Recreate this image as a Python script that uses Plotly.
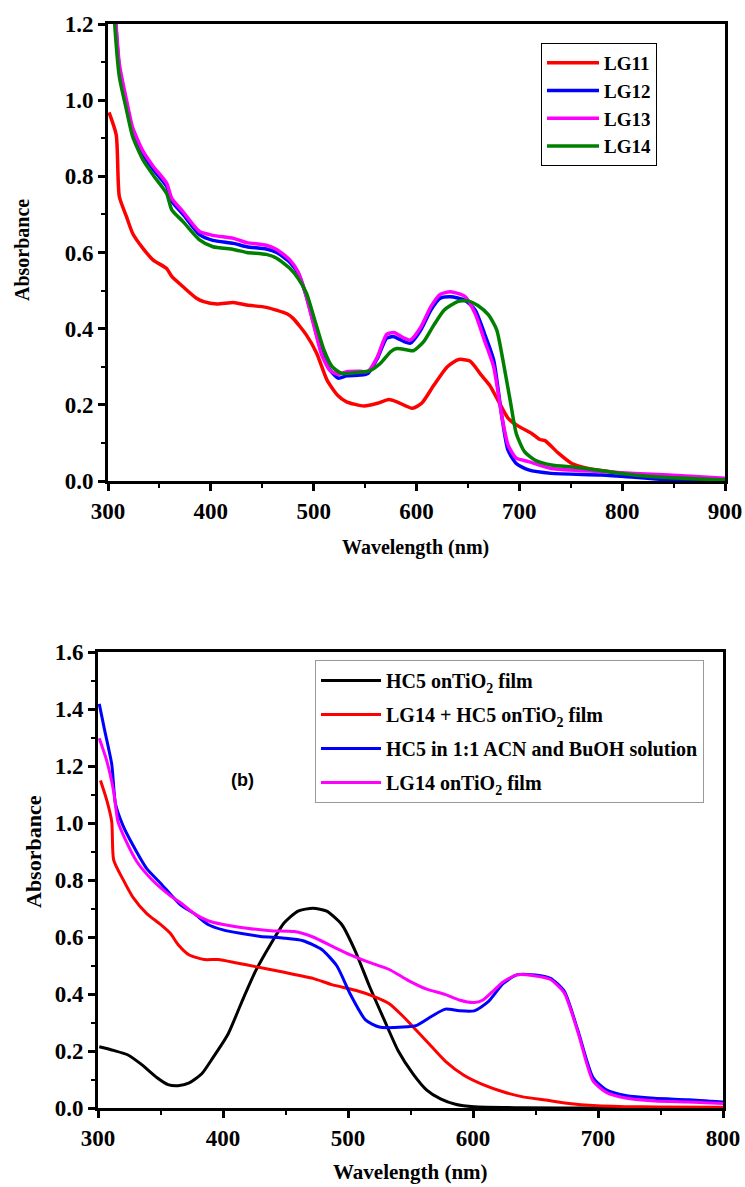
import plotly.graph_objects as go

W, H = 745, 1187

# ---------------- Top panel data ----------------
lg11_x = [301, 308, 311, 318, 324, 334, 344, 357, 362, 373, 386, 393, 406, 422, 435, 454, 474, 480, 493, 503, 513, 523, 532, 549, 562, 573, 581, 596, 605, 617, 630, 641, 652, 663, 671, 679, 689, 699, 712, 720, 725, 738, 751, 767, 787, 812, 845, 900]
lg11_y = [0.968, 0.909, 0.747, 0.694, 0.650, 0.611, 0.580, 0.558, 0.537, 0.510, 0.480, 0.471, 0.465, 0.469, 0.462, 0.456, 0.439, 0.427, 0.383, 0.335, 0.265, 0.226, 0.208, 0.197, 0.204, 0.214, 0.208, 0.191, 0.204, 0.252, 0.300, 0.319, 0.315, 0.278, 0.252, 0.213, 0.165, 0.144, 0.125, 0.109, 0.106, 0.073, 0.046, 0.033, 0.025, 0.016, 0.009, 0.003]

lg12_x = [305, 307.5, 311, 318, 324, 334, 344, 357, 362, 373, 389, 402, 422, 435, 454, 464, 477, 485, 492, 500, 508, 516, 524, 532, 545, 553, 562, 571, 578, 588, 594, 604, 614, 623, 633, 647, 657, 666, 675, 683, 689, 697, 709, 731, 780, 812, 845, 900]
lg12_y = [1.30, 1.20, 1.085, 0.990, 0.920, 0.858, 0.818, 0.774, 0.735, 0.700, 0.647, 0.632, 0.624, 0.615, 0.609, 0.600, 0.574, 0.545, 0.493, 0.414, 0.335, 0.291, 0.270, 0.276, 0.278, 0.283, 0.322, 0.375, 0.379, 0.366, 0.362, 0.396, 0.449, 0.480, 0.484, 0.475, 0.449, 0.388, 0.318, 0.169, 0.081, 0.046, 0.029, 0.020, 0.016, 0.010, 0.003, 0.000]

lg13_x = [305, 307.5, 311, 318, 324, 334, 344, 357, 362, 373, 389, 402, 422, 435, 454, 464, 477, 485, 492, 500, 508, 516, 524, 532, 545, 553, 562, 571, 578, 588, 594, 604, 614, 623, 633, 647, 657, 666, 675, 683, 689, 697, 709, 731, 780, 812, 845, 900]
lg13_y = [1.31, 1.21, 1.095, 1.000, 0.928, 0.866, 0.826, 0.782, 0.742, 0.707, 0.655, 0.645, 0.637, 0.626, 0.619, 0.608, 0.580, 0.548, 0.493, 0.410, 0.330, 0.290, 0.280, 0.287, 0.288, 0.288, 0.326, 0.385, 0.390, 0.375, 0.370, 0.403, 0.458, 0.490, 0.497, 0.485, 0.440, 0.370, 0.300, 0.170, 0.095, 0.060, 0.051, 0.033, 0.025, 0.020, 0.016, 0.007]

lg14_x = [305, 306.5, 311, 318, 324, 334, 344, 357, 362, 373, 389, 402, 422, 435, 454, 464, 477, 485, 493, 501, 510, 518, 527, 539, 555, 565, 575, 581, 591, 597, 607, 617, 627, 640, 650, 660, 670, 678, 684, 691, 697, 705, 715, 731, 754, 780, 812, 845, 900]
lg14_y = [1.28, 1.20, 1.062, 0.974, 0.904, 0.843, 0.803, 0.755, 0.712, 0.681, 0.633, 0.615, 0.608, 0.600, 0.595, 0.585, 0.558, 0.532, 0.493, 0.423, 0.344, 0.300, 0.283, 0.284, 0.290, 0.309, 0.340, 0.348, 0.344, 0.342, 0.366, 0.410, 0.449, 0.471, 0.473, 0.460, 0.436, 0.397, 0.318, 0.213, 0.125, 0.077, 0.055, 0.042, 0.036, 0.027, 0.016, 0.009, 0.003]

# ---------------- Bottom panel data ----------------
hc5_x = [301, 312.5, 324, 335, 347, 356, 364, 373, 383, 392, 404, 415, 426, 438, 449, 460, 472, 483, 495, 506, 517, 529, 540, 552, 563, 574, 586, 601, 639, 700, 800]
hc5_y = [0.215, 0.202, 0.186, 0.152, 0.107, 0.082, 0.078, 0.088, 0.120, 0.177, 0.259, 0.372, 0.480, 0.574, 0.650, 0.691, 0.701, 0.691, 0.644, 0.549, 0.429, 0.309, 0.202, 0.120, 0.063, 0.032, 0.013, 0.004, 0.001, 0.000, 0.000]

mix_x = [302, 307, 311, 312.5, 320, 328, 339, 350, 358, 364, 373, 385, 396, 411, 426, 449, 472, 487, 506, 521, 533, 544, 555, 567, 578, 593, 608, 624, 639, 658, 677, 696, 734, 800]
mix_y = [1.149, 1.080, 1.004, 0.871, 0.802, 0.739, 0.682, 0.644, 0.612, 0.574, 0.537, 0.521, 0.521, 0.509, 0.496, 0.476, 0.455, 0.433, 0.413, 0.391, 0.366, 0.322, 0.271, 0.215, 0.164, 0.114, 0.082, 0.057, 0.040, 0.028, 0.016, 0.009, 0.004, 0.003]

sol_x = [301, 305, 311, 314, 320, 328, 339, 350, 359, 366, 377, 388, 400, 415, 430, 449, 464, 479, 491, 502, 514, 525, 544, 555, 567, 578, 589, 601, 612, 624, 635, 650, 662, 673, 684, 696, 707, 722, 745, 772, 800]
sol_y = [1.418, 1.332, 1.206, 1.067, 0.991, 0.922, 0.840, 0.789, 0.745, 0.713, 0.682, 0.644, 0.625, 0.612, 0.602, 0.596, 0.587, 0.556, 0.499, 0.398, 0.309, 0.284, 0.284, 0.290, 0.322, 0.347, 0.341, 0.341, 0.372, 0.436, 0.467, 0.467, 0.455, 0.410, 0.271, 0.107, 0.063, 0.044, 0.034, 0.029, 0.021]

film_x = [301, 307, 312.5, 316, 322, 331, 343, 359, 366, 377, 388, 400, 419, 438, 457, 472, 487, 502, 517, 533, 548, 563, 578, 589, 601, 608, 616, 624, 635, 650, 662, 673, 684, 696, 707, 722, 745, 772, 800]
film_y = [1.297, 1.218, 1.111, 1.004, 0.941, 0.865, 0.802, 0.741, 0.720, 0.682, 0.657, 0.644, 0.631, 0.622, 0.619, 0.600, 0.568, 0.537, 0.511, 0.486, 0.448, 0.417, 0.398, 0.379, 0.370, 0.379, 0.410, 0.442, 0.467, 0.463, 0.451, 0.404, 0.265, 0.095, 0.054, 0.035, 0.025, 0.021, 0.016]

top_names = ["LG11", "LG12", "LG13", "LG14"]
bot_names = ["HC5 onTiO<sub>2</sub> film", "LG14 + HC5 onTiO<sub>2</sub> film",
             "HC5 in 1:1 ACN and BuOH solution", "LG14 onTiO<sub>2</sub> film"]

SERIF = "Liberation Serif"

fig = go.Figure()

top_series = [(lg11_x, lg11_y, "#ff0000"), (lg12_x, lg12_y, "#0000ff"),
              (lg13_x, lg13_y, "#ff00ff"), (lg14_x, lg14_y, "#008000")]
for (xs, ys, c), n in zip(top_series, top_names):
    fig.add_trace(go.Scatter(x=xs, y=ys, mode="lines", name=n,
                             line=dict(color=c, width=3.5, shape="spline", smoothing=0.6),
                             xaxis="x", yaxis="y", legend="legend"))

bot_series = [(hc5_x, hc5_y, "#000000"), (mix_x, mix_y, "#ff0000"),
              (sol_x, sol_y, "#0000ff"), (film_x, film_y, "#ff00ff")]
for i, ((xs, ys, c), n) in enumerate(zip(bot_series, bot_names)):
    fig.add_trace(go.Scatter(x=xs, y=ys, mode="lines", name=n, legendgroup=f"b{i}",
                             line=dict(color=c, width=3, shape="spline", smoothing=0.6),
                             xaxis="x2", yaxis="y2", legend="legend2"))

def px_x(p):
    return p / W

def px_y(p):
    return 1 - p / H

tickfont = dict(family=SERIF, size=23, color="black", weight="bold")
common = dict(showline=True, linecolor="black", linewidth=3, mirror=True,
              ticks="outside", ticklen=7, tickwidth=2.5, tickcolor="black",
              showgrid=False, zeroline=False, tickfont=tickfont, automargin=False)
minor_common = dict(ticklen=4, tickwidth=2, ticks="outside", tickcolor="black", showgrid=False)

fig.update_layout(
    template="none",
    width=W, height=H, margin=dict(l=0, r=0, t=0, b=0, autoexpand=False),
    paper_bgcolor="white", plot_bgcolor="white",
    xaxis=dict(domain=[px_x(108), px_x(725)], range=[300, 900], dtick=100, anchor="y",
               minor=dict(dtick=50, **minor_common), **common),
    yaxis=dict(domain=[px_y(481), px_y(24)], range=[0, 1.2], dtick=0.2, tickformat=".1f", anchor="x",
               minor=dict(dtick=0.1, **minor_common), **common),
    xaxis2=dict(domain=[px_x(98), px_x(723)], range=[300, 800], dtick=100, anchor="y2",
                minor=dict(dtick=50, **minor_common), **common),
    yaxis2=dict(domain=[px_y(1108), px_y(652)], range=[0, 1.6], dtick=0.2, tickformat=".1f", anchor="x2",
                minor=dict(dtick=0.1, **minor_common), **common),
    legend=dict(x=px_x(541), y=px_y(43), xanchor="left", yanchor="top",
                bgcolor="white", bordercolor="black", borderwidth=1,
                font=dict(family=SERIF, size=19, color="black", weight="bold"),
                itemwidth=52, tracegroupgap=0),
    legend2=dict(x=px_x(315), y=px_y(660), xanchor="left", yanchor="top",
                 bgcolor="white", bordercolor="#999999", borderwidth=1,
                 font=dict(family=SERIF, size=20, color="black", weight="bold"),
                 itemwidth=60, tracegroupgap=5),
    showlegend=True,
)

annos = [
    dict(text="Absorbance", x=px_x(22), y=px_y(250), textangle=-90,
         font=dict(family=SERIF, size=20, color="black", weight="bold")),
    dict(text="Wavelength (nm)", x=px_x(416), y=px_y(548),
         font=dict(family=SERIF, size=20, color="black", weight="bold")),
    dict(text="Absorbance", x=px_x(33), y=px_y(852), textangle=-90,
         font=dict(family=SERIF, size=22, color="black", weight="bold")),
    dict(text="Wavelength (nm)", x=px_x(410), y=px_y(1172),
         font=dict(family=SERIF, size=21, color="black", weight="bold")),
    dict(text="(b)", x=px_x(242), y=px_y(780),
         font=dict(family="Liberation Sans", size=18, color="black", weight="bold")),
]
for a in annos:
    fig.add_annotation(xref="paper", yref="paper", showarrow=False,
                       xanchor="center", yanchor="middle", **a)

fig.write_html("out.html")
